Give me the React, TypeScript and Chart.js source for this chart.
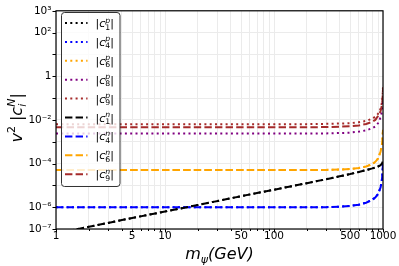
import React, { useEffect, useRef } from "react";
import { Chart, registerables } from "chart.js";
Chart.register(...registerables);

const masses = [1, 2, 5, 10, 20, 50, 100, 200, 300, 400, 500, 600, 700, 800, 850, 900, 950, 980, 990, 1000];

const c1p = [6.3e-8, 1.26e-7, 3.2e-7, 6.3e-7, 1.26e-6, 3.2e-6, 6.3e-6, 1.26e-5, 1.9e-5, 2.6e-5, 3.3e-5, 4.1e-5, 5.0e-5, 6.0e-5, 6.6e-5, 7.3e-5, 8.5e-5, 1.0e-4, 1.1e-4, 1.3e-4];
const c4p = [1e-6, 1e-6, 1e-6, 1e-6, 1e-6, 1e-6, 1e-6, 1e-6, 1.0e-6, 1.05e-6, 1.15e-6, 1.3e-6, 1.6e-6, 2.2e-6, 2.8e-6, 4e-6, 8e-6, 2e-5, 4e-5, 1.2e-4];
const c6p = [5e-5, 5e-5, 5e-5, 5e-5, 5e-5, 5e-5, 5e-5, 5e-5, 5.1e-5, 5.3e-5, 5.6e-5, 6.2e-5, 7.3e-5, 9.5e-5, 1.2e-4, 1.7e-4, 3.5e-4, 8e-4, 1.5e-3, 3.5e-3];
const c8p = [2.35e-3, 2.35e-3, 2.35e-3, 2.35e-3, 2.35e-3, 2.35e-3, 2.35e-3, 2.35e-3, 2.4e-3, 2.5e-3, 2.6e-3, 2.9e-3, 3.3e-3, 4.2e-3, 5e-3, 7e-3, 1.3e-2, 2.6e-2, 3.8e-2, 6.5e-2];
const c9p = [6.4e-3, 6.4e-3, 6.4e-3, 6.4e-3, 6.4e-3, 6.4e-3, 6.4e-3, 6.4e-3, 6.6e-3, 6.8e-3, 7.1e-3, 7.8e-3, 9e-3, 1.15e-2, 1.4e-2, 1.9e-2, 3.3e-2, 6.5e-2, 0.11, 0.32];
const c1n = [6.3e-8, 1.26e-7, 3.2e-7, 6.3e-7, 1.26e-6, 3.2e-6, 6.3e-6, 1.26e-5, 1.9e-5, 2.6e-5, 3.3e-5, 4.1e-5, 5.0e-5, 6.0e-5, 6.6e-5, 7.3e-5, 8.5e-5, 1.0e-4, 1.1e-4, 1.3e-4];
const c4n = [1e-6, 1e-6, 1e-6, 1e-6, 1e-6, 1e-6, 1e-6, 1e-6, 1.0e-6, 1.05e-6, 1.15e-6, 1.3e-6, 1.6e-6, 2.2e-6, 2.8e-6, 4e-6, 8e-6, 2e-5, 4e-5, 1.2e-4];
const c6n = [5e-5, 5e-5, 5e-5, 5e-5, 5e-5, 5e-5, 5e-5, 5e-5, 5.1e-5, 5.3e-5, 5.6e-5, 6.2e-5, 7.3e-5, 9.5e-5, 1.2e-4, 1.7e-4, 3.5e-4, 8e-4, 1.5e-3, 3.5e-3];
const c9n = [4.6e-3, 4.6e-3, 4.6e-3, 4.6e-3, 4.6e-3, 4.6e-3, 4.6e-3, 4.6e-3, 4.7e-3, 4.9e-3, 5.1e-3, 5.6e-3, 6.5e-3, 8.3e-3, 1.0e-2, 1.5e-2, 2.5e-2, 5e-2, 9e-2, 0.26];

const seriesSup = ["p", "p", "p", "p", "p", "n", "n", "n", "n"];
const seriesSub = ["1", "4", "6", "8", "9", "1", "4", "6", "9"];
const seriesColors = ["#000000", "#0000ff", "#ffa500", "#800080", "#a52a2a", "#000000", "#0000ff", "#ffa500", "#a52a2a"];
const seriesData = [c1p, c4p, c6p, c8p, c9p, c1n, c4n, c6n, c9n];

const xTickVals = [1, 2, 3, 4, 5, 6, 7, 8, 9, 10, 20, 30, 40, 50, 60, 70, 80, 90, 100, 200, 300, 400, 500, 600, 700, 800, 900, 1000];
const xLabelVals = [1, 5, 10, 50, 100, 500, 1000];
const yTickVals = [1e-7, 1e-6, 1e-5, 1e-4, 1e-3, 1e-2, 1e-1, 1, 1e1, 1e2, 1e3];
const yTickLabels: Record<string, string> = { "-7": "10⁻⁷", "-6": "10⁻⁶", "-4": "10⁻⁴", "-2": "10⁻²", "0": "1", "2": "10²", "3": "10³" };

const FONT = '"DejaVu Sans"';
const DOT = [2, 3.3];
const DASH = [7.4, 3.2];

type Part = { t: string; it?: boolean; s: number; dy?: number; stack?: boolean };

function measure(ctx: CanvasRenderingContext2D, p: Part) {
  ctx.font = `${p.it ? "italic " : ""}${p.s}px ${FONT}`;
  return ctx.measureText(p.t).width;
}

function drawParts(ctx: CanvasRenderingContext2D, parts: Part[], x: number, y: number, align: "left" | "center") {
  const widths = parts.map((p) => measure(ctx, p));
  let total = 0;
  parts.forEach((p, i) => {
    if (p.stack) total += Math.max(0, widths[i] - widths[i - 1]);
    else total += widths[i];
  });
  let cx = align === "center" ? x - total / 2 : x;
  let prevX = cx;
  let prevW = 0;
  ctx.textAlign = "left";
  ctx.textBaseline = "alphabetic";
  parts.forEach((p, i) => {
    ctx.font = `${p.it ? "italic " : ""}${p.s}px ${FONT}`;
    if (p.stack) {
      ctx.fillText(p.t, prevX, y + (p.dy || 0));
      const w = Math.max(prevW, widths[i]);
      cx = prevX + w;
      prevW = w;
    } else {
      ctx.fillText(p.t, cx, y + (p.dy || 0));
      prevX = cx;
      prevW = widths[i];
      cx += widths[i];
    }
  });
}

const overlay = {
  id: "overlay",
  afterDraw(chart: any) {
    const ctx: CanvasRenderingContext2D = chart.ctx;
    const a = chart.chartArea;
    const xs = chart.scales.x;
    const ys = chart.scales.y;
    ctx.save();
    ctx.strokeStyle = "#000";
    ctx.lineWidth = 1;
    ctx.beginPath();
    xTickVals.forEach((v) => {
      const px = Math.round(xs.getPixelForValue(v)) + 0.5;
      const major = v === 1 || v === 10 || v === 100 || v === 1000;
      const len = major ? 3.5 : 2;
      ctx.moveTo(px, a.bottom);
      ctx.lineTo(px, a.bottom + len);
    });
    yTickVals.forEach((v) => {
      const py = Math.round(ys.getPixelForValue(v)) + 0.5;
      ctx.moveTo(a.left - 3.5, py);
      ctx.lineTo(a.left, py);
    });
    ctx.stroke();
    ctx.lineWidth = 1.2;
    ctx.strokeRect(a.left, a.top, a.right - a.left, a.bottom - a.top);

    // legend
    const lx = 61.5, ly = 12.5, lw = 58.5, lh = 174;
    ctx.beginPath();
    (ctx as any).roundRect(lx, ly, lw, lh, 3);
    ctx.fillStyle = "rgba(255,255,255,0.8)";
    ctx.fill();
    ctx.strokeStyle = "#333";
    ctx.lineWidth = 1;
    ctx.stroke();
    for (let i = 0; i < seriesSup.length; i++) {
      const ry = 23 + i * 18.9;
      ctx.beginPath();
      ctx.setLineDash(i < 5 ? DOT : DASH);
      ctx.strokeStyle = seriesColors[i];
      ctx.lineWidth = 2;
      ctx.moveTo(65, ry);
      ctx.lineTo(87.5, ry);
      ctx.stroke();
      ctx.setLineDash([]);
      ctx.fillStyle = "#000";
      drawParts(
        ctx,
        [
          { t: "|", s: 11 },
          { t: "c", it: true, s: 11 },
          { t: seriesSup[i], it: true, s: 7.7, dy: -4.5 },
          { t: seriesSub[i], s: 7.7, dy: 2.5, stack: true },
          { t: "|", s: 11 },
        ],
        95.5,
        ry + 4,
        "left"
      );
    }

    ctx.fillStyle = "#000";
    drawParts(
      ctx,
      [
        { t: "m", it: true, s: 16 },
        { t: "ψ", it: true, s: 11, dy: 3.5 },
        { t: "(GeV)", it: true, s: 16 },
      ],
      (a.left + a.right) / 2,
      259,
      "center"
    );
    ctx.save();
    ctx.translate(22, (a.top + a.bottom) / 2 - 2);
    ctx.rotate(-Math.PI / 2);
    drawParts(
      ctx,
      [
        { t: "v", it: true, s: 16 },
        { t: "2", s: 11, dy: -7 },
        { t: " ", s: 16 },
        { t: "|", s: 16 },
        { t: "c", it: true, s: 16 },
        { t: "N", it: true, s: 11, dy: -7 },
        { t: "i", it: true, s: 11, dy: 4, stack: true },
        { t: "|", s: 16 },
      ],
      0,
      0,
      "center"
    );
    ctx.restore();
    ctx.restore();
  },
};

export default function App() {
  const ref = useRef<HTMLCanvasElement>(null);
  useEffect(() => {
    document.body.style.margin = "0";
    const canvas = ref.current!;
    const datasets = seriesData.map((arr, i) => ({
      label: `|c${seriesSub[i]}${seriesSup[i]}|`,
      data: masses.map((m, j) => ({ x: m, y: arr[j] })),
      borderColor: seriesColors[i],
      backgroundColor: seriesColors[i],
      borderWidth: 2,
      borderDash: i < 5 ? DOT : DASH,
      pointRadius: 0,
      tension: 0,
      fill: false,
      order: i < 5 ? 1 : 0,
    }));
    const chart = new Chart(canvas, {
      type: "line",
      data: { datasets },
      options: {
        responsive: false,
        animation: false,
        events: [],
        layout: { padding: { left: 0, top: 7, right: 16, bottom: 0 } },
        plugins: { legend: { display: false }, tooltip: { enabled: false } },
        scales: {
          x: {
            type: "logarithmic",
            min: 1,
            max: 1000,
            afterBuildTicks: (s: any) => {
              s.ticks = xTickVals.map((v) => ({ value: v }));
            },
            afterFit: (s: any) => {
              s.height = 37;
            },
            ticks: {
              autoSkip: false,
              maxRotation: 0,
              padding: 1,
              color: "#000",
              font: { family: FONT, size: 10.5 },
              callback: (v: any) => (xLabelVals.includes(Number(v)) ? String(v) : ""),
            },
            grid: { color: "#ebebeb", lineWidth: 1, drawTicks: false },
            border: { display: false },
          },
          y: {
            type: "logarithmic",
            min: 1e-7,
            max: 1e3,
            afterBuildTicks: (s: any) => {
              s.ticks = yTickVals.map((v) => ({ value: v }));
            },
            afterFit: (s: any) => {
              s.width = 56;
            },
            ticks: {
              autoSkip: false,
              padding: 4.5,
              color: "#000",
              font: { family: FONT, size: 10.5 },
              callback: (v: any) => {
                const k = String(Math.round(Math.log10(Number(v))));
                return yTickLabels[k] ?? "";
              },
            },
            grid: { color: "#ebebeb", lineWidth: 1, drawTicks: false },
            border: { display: false },
          },
        },
      },
      plugins: [overlay],
    });
    return () => chart.destroy();
  }, []);
  return (
    <div style={{ width: 399, height: 266 }}>
      <canvas ref={ref} width={399} height={266} style={{ display: "block" }} />
    </div>
  );
}
